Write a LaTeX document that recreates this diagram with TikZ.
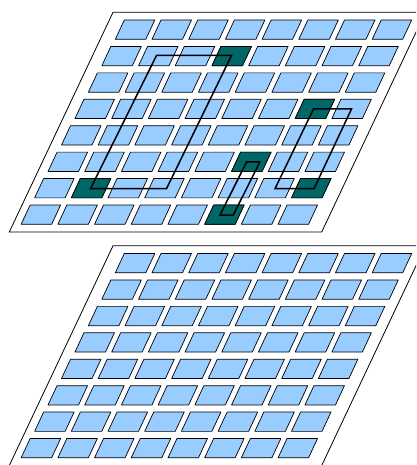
\documentclass[tikz,border=0pt]{standalone}
\definecolor{cellblue}{RGB}{153,204,255}
\definecolor{darkteal}{RGB}{0,102,102}
\tikzset{
  panel/.style={draw=black, fill=white, line width=0.8pt},
  cell/.style={draw=black, fill=cellblue, line width=0.7pt, line join=round},
  hot/.style={draw=black, fill=darkteal, line width=0.7pt, line join=round},
  loopline/.style={draw=black, line width=1.5pt, line join=miter},
}
\begin{document}
\begin{tikzpicture}[x=1pt,y=-1pt]
\useasboundingbox (0,0) rectangle (416,465);
\clip (0,0) rectangle (416,465);
% two panels, each with an 8x8 grid of cells
\foreach \oy in {0,233.5} {
  \draw[panel] (9.3,232+\oy) -- (321.7,232+\oy) -- (425.4,12.3+\oy) -- (113,12.3+\oy) -- cycle;
  \foreach \r in {0,...,7} {
    \foreach \c in {0,...,7} {
      \pgfmathsetmacro\X{124.3+36.7*\c-13.45*\r}
      \pgfmathsetmacro\Y{20+26.43*\r+\oy}
      \draw[cell] (\X,\Y) -- ++(30.5,0) -- ++(-9,19.3) -- ++(-30.5,0) -- cycle;
    }
  }
}
% highlighted cells in the upper panel
\foreach \r/\c in {1/3,3/6,5/5,6/1,6/7,7/5} {
  \pgfmathsetmacro\X{124.3+36.7*\c-13.45*\r}
  \pgfmathsetmacro\Y{20+26.43*\r}
  \draw[hot] (\X,\Y) -- ++(30.5,0) -- ++(-9,19.3) -- ++(-30.5,0) -- cycle;
}
% loops
\coordinate (a1) at (156.5,55.5);
\coordinate (a2) at (231.5,55.5);
\coordinate (a3) at (166.5,188.7);
\coordinate (a4) at (90.5,188.7);
\coordinate (b1) at (313.5,109);
\coordinate (b2) at (351.5,109);
\coordinate (b3) at (314,188.7);
\coordinate (b4) at (275,188.7);
\coordinate (c1) at (246.7,161.8);
\coordinate (c2) at (260,161.8);
\coordinate (c3) at (233.3,215);
\coordinate (c4) at (220,215);
\draw[loopline] (a1) -- (a2) -- (a3) -- (a4) -- cycle;
\draw[loopline] (b1) -- (b2) -- (b3) -- (b4) -- cycle;
\draw[loopline] (c1) -- (c2) -- (c3) -- (c4) -- cycle;
\end{tikzpicture}
\end{document}
